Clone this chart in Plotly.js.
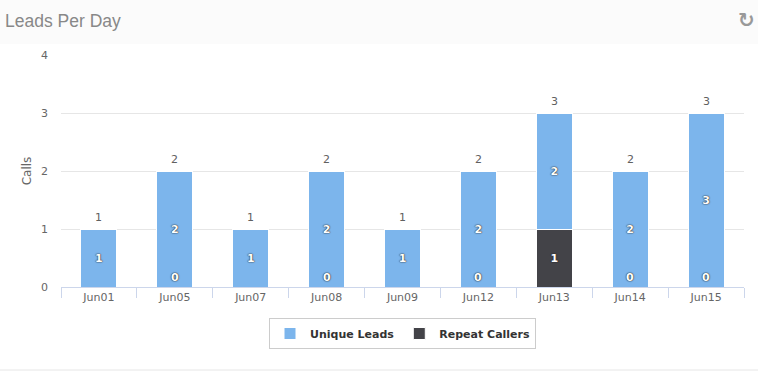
<!DOCTYPE html>
<html>
<head>
<meta charset="utf-8">
<script src="https://cdn.plot.ly/plotly-3.0.1.min.js"></script>
<style>html,body{margin:0;padding:0;background:#fff;}#chart{width:758px;height:373px;}</style>
</head>
<body>
<div id="chart"></div>
<script>
const categories = ["Jun01","Jun05","Jun07","Jun08","Jun09","Jun12","Jun13","Jun14","Jun15"];
const uniqueLeads = [1,2,1,2,1,2,2,2,3];
const repeatCallers = [null,0,null,0,null,0,1,0,0];
const totals = categories.map((c,i)=> uniqueLeads[i] + (repeatCallers[i]||0));

const labelFont = {family:"DejaVu Sans", size:11, color:"#ffffff", weight:"bold", shadow:"0 0 1.5px #222, 0 0 1px #222"};

const traceRepeat = {
  type:"bar", name:"Repeat Callers", x:categories, y:repeatCallers,
  marker:{color:"#434348", line:{color:"#ffffff", width:1}},
  text:repeatCallers.map(v=> v? String(v):""), textposition:"inside", insidetextanchor:"middle",
  textfont:labelFont, hoverinfo:"none"
};
const traceUnique = {
  type:"bar", name:"Unique Leads", x:categories, y:uniqueLeads,
  marker:{color:"#7cb5ec", line:{color:"#ffffff", width:1}},
  text:uniqueLeads.map(String), textposition:"inside", insidetextanchor:"middle",
  textfont:labelFont, hoverinfo:"none"
};

const L=61, R=744, T=55, B=287, W=R-L, H=B-T;
const annotations = [];
categories.forEach((c,i)=>{
  annotations.push({x:c, y:totals[i], xref:"x", yref:"y", text:String(totals[i]), showarrow:false,
    yanchor:"bottom", yshift:3, font:{family:"DejaVu Sans", size:11, color:"#606060"}});
  if (repeatCallers[i] === 0) {
    annotations.push({x:c, y:0, xref:"x", yref:"y", text:"0", showarrow:false,
      yanchor:"bottom", yshift:1, font:labelFont});
  }
});
annotations.push({x:(746-L)/W, y:(B-20)/H, xref:"paper", yref:"paper", text:"\u21BB", showarrow:false,
  xanchor:"center", yanchor:"middle", font:{family:"DejaVu Sans", size:20, color:"#999999", weight:"bold"}});

const layout = {
  width:758, height:373,
  margin:{l:L, r:758-R, t:T, b:373-B, pad:0},
  paper_bgcolor:"#ffffff", plot_bgcolor:"#ffffff",
  barmode:"stack", bargap:0.525,
  showlegend:true,
  title:{text:"Leads Per Day", x:5/758, xref:"container", xanchor:"left", y:1-21/373, yref:"container", yanchor:"middle",
    font:{family:"Liberation Sans", size:17.5, color:"#888888"}},
  xaxis:{type:"category", showline:true, linecolor:"#ccd6eb", linewidth:1, tickson:"boundaries", ticks:"outside",
    ticklen:10, tickcolor:"#ccd6eb", showgrid:false, tickfont:{family:"DejaVu Sans", size:11, color:"#666"}, fixedrange:true},
  yaxis:{range:[0,4], dtick:1, showgrid:true, gridcolor:"#e6e6e6", zeroline:false, showline:false,
    ticklabelstandoff:12, tickfont:{family:"DejaVu Sans", size:11, color:"#666"},
    title:{text:"Calls", font:{family:"DejaVu Sans", size:12, color:"#666"}, standoff:6}, fixedrange:true},
  legend:{orientation:"h", x:0.5, xanchor:"center", y:-(318-B)/H, yanchor:"top", bordercolor:"#cccccc", borderwidth:1,
    font:{family:"DejaVu Sans", size:11, color:"#333", weight:"bold"}, traceorder:"reversed", bgcolor:"#ffffff"},
  shapes:[
    {type:"rect", xref:"paper", yref:"paper", x0:-L/W, x1:(758-L)/W, y0:(B-44)/H, y1:(B+2)/H, fillcolor:"#fbfbfb", line:{width:0}, layer:"below"},
    {type:"line", xref:"paper", yref:"paper", x0:-L/W, x1:(758-L)/W, y0:(B-370)/H, y1:(B-370)/H, line:{color:"#e6e6e6", width:1}}
  ],
  annotations:annotations
};
Plotly.newPlot("chart", [traceRepeat, traceUnique], layout, {displayModeBar:false, staticPlot:true});
</script>
</body>
</html>
